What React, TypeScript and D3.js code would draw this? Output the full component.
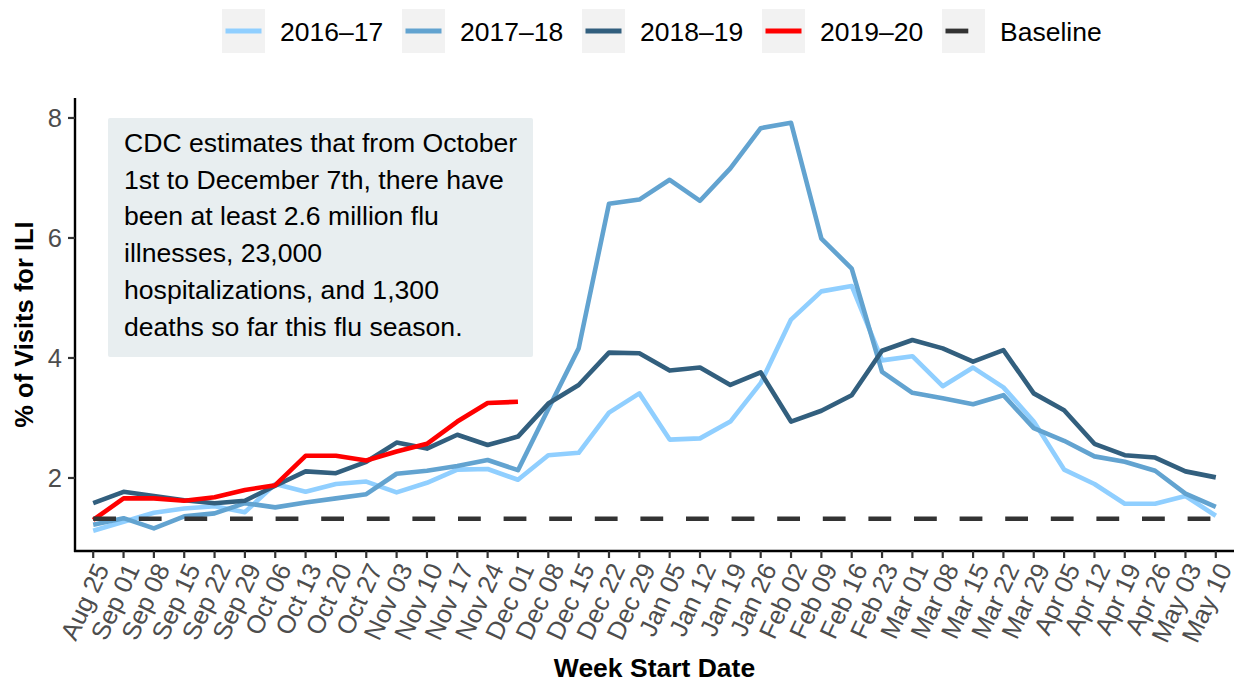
import React from 'react';
import * as d3 from 'd3';

const weeks = [
  'Aug 25', 'Sep 01', 'Sep 08', 'Sep 15', 'Sep 22', 'Sep 29', 'Oct 06', 'Oct 13', 'Oct 20', 'Oct 27',
  'Nov 03', 'Nov 10', 'Nov 17', 'Nov 24', 'Dec 01', 'Dec 08', 'Dec 15', 'Dec 22', 'Dec 29', 'Jan 05',
  'Jan 12', 'Jan 19', 'Jan 26', 'Feb 02', 'Feb 09', 'Feb 16', 'Feb 23', 'Mar 01', 'Mar 08', 'Mar 15',
  'Mar 22', 'Mar 29', 'Apr 05', 'Apr 12', 'Apr 19', 'Apr 26', 'May 03', 'May 10',
];

const season1617 = [
  1.12, 1.27, 1.42, 1.49, 1.53, 1.43, 1.90, 1.77, 1.90, 1.94,
  1.76, 1.92, 2.14, 2.15, 1.97, 2.38, 2.42, 3.09, 3.41, 2.64,
  2.66, 2.94, 3.58, 4.64, 5.11, 5.20, 3.96, 4.03, 3.53, 3.84,
  3.51, 2.94, 2.14, 1.90, 1.57, 1.57, 1.70, 1.37,
];
const season1718 = [
  1.22, 1.33, 1.16, 1.36, 1.41, 1.58, 1.51, 1.59, 1.66, 1.73,
  2.07, 2.12, 2.20, 2.30, 2.13, 3.15, 4.16, 6.57, 6.64, 6.97,
  6.62, 7.16, 7.83, 7.92, 5.99, 5.49, 3.77, 3.42, 3.33, 3.23,
  3.38, 2.83, 2.62, 2.36, 2.27, 2.12, 1.74, 1.52,
];
const season1819 = [
  1.58, 1.77, 1.70, 1.63, 1.58, 1.62, 1.87, 2.11, 2.08, 2.27,
  2.59, 2.49, 2.72, 2.55, 2.69, 3.24, 3.55, 4.09, 4.08, 3.79,
  3.84, 3.55, 3.76, 2.94, 3.12, 3.38, 4.12, 4.30, 4.16, 3.94,
  4.13, 3.41, 3.13, 2.57, 2.38, 2.34, 2.11, 2.01,
];
const season1920 = [
  1.30, 1.66, 1.66, 1.62, 1.68, 1.80, 1.88, 2.37, 2.37, 2.29,
  2.44, 2.57, 2.94, 3.25, 3.27,
];
const baselineValue = 1.32;
const baseline = weeks.map(() => baselineValue);

const seriesNames = ['2016–17', '2017–18', '2018–19', '2019–20', 'Baseline'];
const seriesValues = [season1617, season1718, season1819, season1920, baseline];
const seriesColors = ['#90cfff', '#62a3d0', '#325f7e', '#ff0000', '#333333'];
const seriesDashed = [false, false, false, false, true];

const yTicks = [2, 4, 6, 8];

const noteLines = [
  'CDC estimates that from October',
  '1st to December 7th, there have',
  'been at least 2.6 million flu',
  'illnesses, 23,000',
  'hospitalizations, and 1,300',
  'deaths so far this flu season.',
];

const FONT = '"Liberation Sans", Arial, Helvetica, sans-serif';

export default function App() {
  const W = 1236;
  const H = 683;
  const left = 75;
  const right = 1234;
  const top = 98;
  const bottom = 551;

  const x = d3.scalePoint<string>().domain(weeks).range([left, right]).padding(0.6);
  const y = d3.scaleLinear().domain([0.783, 8.333]).range([bottom, top]);

  const line = d3
    .line<number>()
    .x((_, i) => x(weeks[i]) as number)
    .y((d) => y(d));

  const legendX0 = 222;
  const legendStep = 180;

  return (
    <svg
      width={W}
      height={H}
      style={{ position: 'absolute', left: 0, top: 0, background: '#ffffff' }}
      fontFamily={FONT}
    >
      <rect x={0} y={0} width={W} height={H} fill="#ffffff" />

      {/* Legend */}
      {seriesNames.map((name, k) => {
        const kx = legendX0 + k * legendStep;
        return (
          <g key={name}>
            <rect x={kx} y={9} width={43} height={44} fill="#f2f2f2" />
            <line
              x1={kx + 3.5}
              x2={kx + 39.5}
              y1={31}
              y2={31}
              stroke={seriesColors[k]}
              strokeWidth={4.8}
              strokeDasharray={seriesDashed[k] ? '22.8 22.8' : undefined}
            />
            <text x={kx + 58} y={41} fontSize={26.5} fill="#000000">
              {name}
            </text>
          </g>
        );
      })}

      {/* Annotation */}
      <rect x={108} y={118} width={425} height={239} fill="#e8eef0" rx={2} />
      {noteLines.map((t, i) => (
        <text key={i} x={124} y={152 + i * 36.7} fontSize={26.6} fill="#000000">
          {t}
        </text>
      ))}

      {/* Series */}
      {seriesValues.map((vals, k) => (
        <path
          key={seriesNames[k]}
          d={line(vals) as string}
          fill="none"
          stroke={seriesColors[k]}
          strokeWidth={4.6}
          strokeLinejoin="round"
          strokeLinecap="butt"
          strokeDasharray={seriesDashed[k] ? '22.8 22.8' : undefined}
        />
      ))}

      {/* Axes */}
      <line x1={left} x2={left} y1={top} y2={bottom + 1} stroke="#000" strokeWidth={2.4} />
      <line x1={left - 1} x2={right} y1={bottom} y2={bottom} stroke="#000" strokeWidth={2.4} />

      {yTicks.map((t) => (
        <g key={t}>
          <line x1={left - 7} x2={left} y1={y(t)} y2={y(t)} stroke="#333" strokeWidth={2.2} />
          <text x={left - 13} y={y(t)} dy="0.36em" textAnchor="end" fontSize={25.5} fill="#4d4d4d">
            {t}
          </text>
        </g>
      ))}

      {weeks.map((w) => {
        const px = x(w) as number;
        return (
          <g key={w}>
            <line x1={px} x2={px} y1={bottom} y2={bottom + 7} stroke="#333" strokeWidth={2.2} />
            <text
              transform={`translate(${px},${bottom + 10}) rotate(-65)`}
              textAnchor="end"
              dy="0.72em"
              fontSize={25.5}
              fill="#4d4d4d"
            >
              {w}
            </text>
          </g>
        );
      })}

      {/* Axis titles */}
      <text x={(left + right) / 2} y={677} textAnchor="middle" fontSize={26.5} fontWeight="bold" fill="#000">
        Week Start Date
      </text>
      <text
        transform={`translate(33,${(top + bottom) / 2}) rotate(-90)`}
        textAnchor="middle"
        fontSize={25.5}
        fontWeight="bold"
        fill="#000"
      >
        % of Visits for ILI
      </text>
    </svg>
  );
}
